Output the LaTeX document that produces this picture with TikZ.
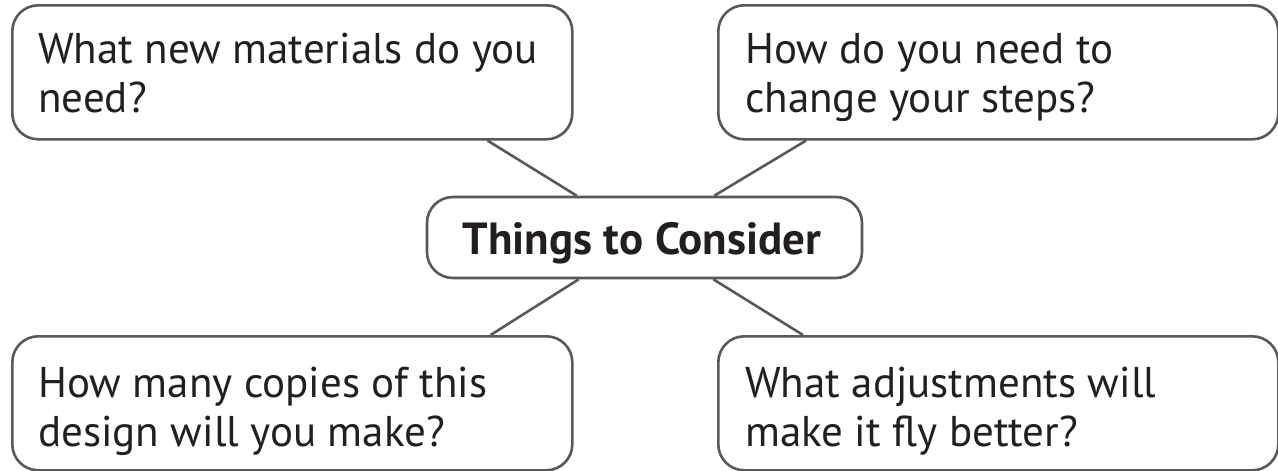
\documentclass[tikz,border=0pt]{standalone}
\usepackage{fontspec}
\setmainfont{PT Sans}
\definecolor{edge}{HTML}{58595B}
\definecolor{ink}{HTML}{231F20}
\begin{document}
\begin{tikzpicture}[x=1pt,y=-1pt,
  box/.style={draw=edge, line width=2.6pt, rounded corners=26pt, minimum width=560pt, minimum height=134pt, anchor=north west, inner sep=0pt},
  txt/.style={anchor=base west, text=ink, font=\fontsize{43}{49}\selectfont, align=left, inner sep=0pt},
  hub/.style={draw=edge, line width=2.6pt, rounded corners=26pt, minimum width=435pt, minimum height=81pt, inner sep=0pt},
  hubtxt/.style={anchor=base, text=ink, font=\fontsize{45}{49}\selectfont\bfseries, inner sep=0pt},
  link/.style={draw=edge, line width=2.6pt}]
\fill[white] (0,0) rectangle (1278,471);
\useasboundingbox (0,0) rectangle (1278,471);
\node[box] (tl) at (11,4) {};
\node[box] (tr) at (717,4) {};
\node[box] (bl) at (11,335) {};
\node[box] (br) at (717,335) {};
\node[hub] (c) at (644.5,237.5) {};
\node[hubtxt] (ct) at (642,254) {Things to Consider};
\node[txt] (tlt) at (38,112) {What new materials do you\\need?};
\node[txt] (trt) at (745,112) {How do you need to\\change your steps?};
\node[txt] (blt) at (38,446) {How many copies of this\\design will you make?};
\node[txt] (brt) at (745,446) {What adjustments will\\make it fly better?};
\draw[link] ([xshift=-86pt]tl.south east) -- ([xshift=151pt]c.north west);
\draw[link] ([xshift=89pt]tr.south west) -- ([xshift=-149pt]c.north east);
\draw[link] ([xshift=-83pt]bl.north east) -- ([xshift=153pt]c.south west);
\draw[link] ([xshift=86pt]br.north west) -- ([xshift=-150pt]c.south east);
\end{tikzpicture}
\end{document}
